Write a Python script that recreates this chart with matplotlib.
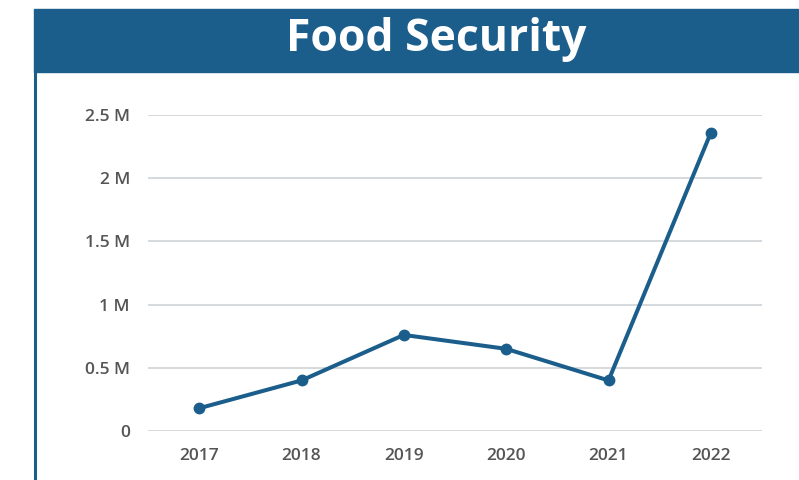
import numpy as np
import matplotlib.pyplot as plt
from matplotlib.patches import Rectangle
from matplotlib.lines import Line2D

# data (people, millions)
years = ['2017', '2018', '2019', '2020', '2021', '2022']
values = [0.18, 0.40, 0.76, 0.65, 0.40, 2.36]
yticks = [0, 0.5, 1, 1.5, 2, 2.5]
ytick_labels = ['0', '0.5 M', '1 M', '1.5 M', '2 M', '2.5 M']

blue = '#1b5e8c'
W, H = 799, 480

fig = plt.figure(figsize=(W / 100, H / 100), dpi=100)
fig.patch.set_facecolor('white')

# banner + left border
fig.patches.append(Rectangle((34 / W, (H - 72) / H), 1 - 34 / W, 63 / H,
                             transform=fig.transFigure, color=blue, zorder=0))
fig.lines.append(Line2D([35 / W, 35 / W], [0, (H - 72) / H], transform=fig.transFigure,
                        color=blue, lw=2.2))
fig.text(436 / W, (H - 40) / H, 'Food Security', color='white', fontsize=32,
         fontweight='bold', family='Open Sans', ha='center', va='center')

ax = fig.add_axes([148 / W, (H - 431) / H, (762 - 148) / W, 316 / H])
ax.set_facecolor('none')
x = np.arange(len(years))
ax.plot(x, values, color=blue, lw=2.9, marker='o', ms=7.5, zorder=3, clip_on=False)

ax.set_xlim(-0.5, len(years) - 0.5)
ax.set_ylim(0, 2.5)
ax.set_xticks(x)
ax.set_xticklabels(years)
ax.set_yticks(yticks)
ax.set_yticklabels(ytick_labels)
for sp in ax.spines.values():
    sp.set_visible(False)
ax.grid(axis='y', color='#d3d7d9', lw=1.3)
ax.set_axisbelow(True)
ax.tick_params(length=0, labelsize=12.5, labelcolor='#555555')
ax.tick_params(axis='x', pad=12)
ax.tick_params(axis='y', pad=13)
for lab in ax.get_xticklabels() + ax.get_yticklabels():
    lab.set_family('Open Sans')
    lab.set_fontweight('semibold')

plt.savefig('out.png', dpi=100)
